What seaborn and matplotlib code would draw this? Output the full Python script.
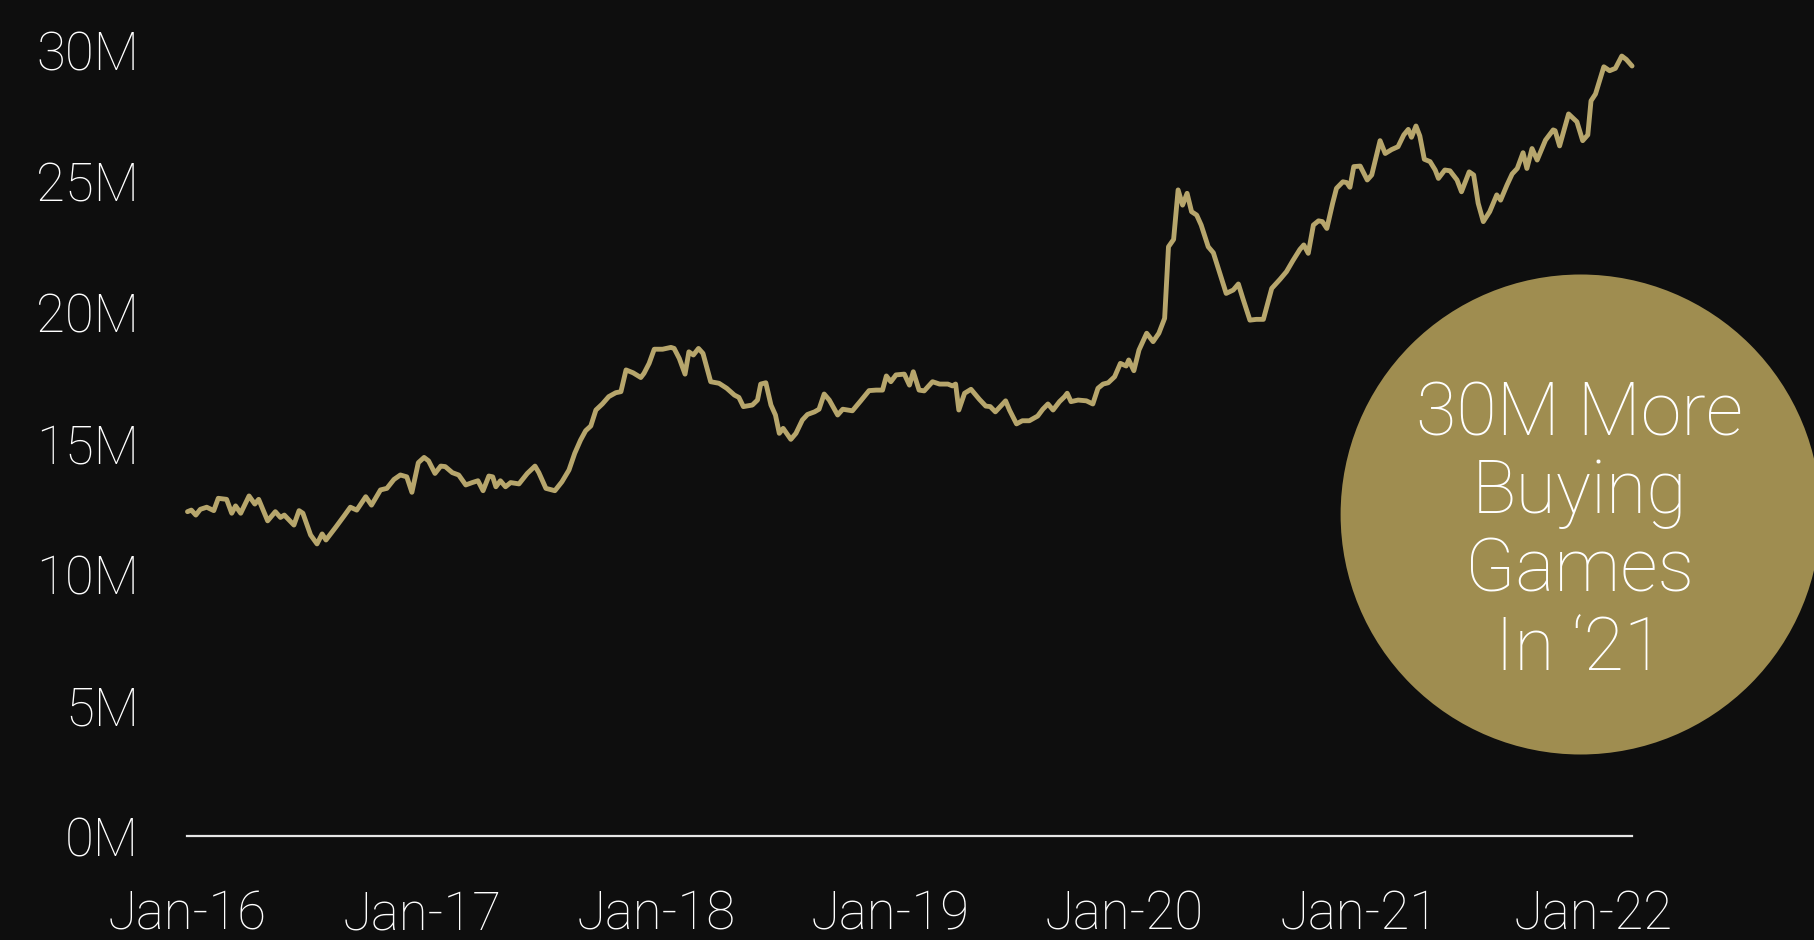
import numpy as np
import pandas as pd
import matplotlib
matplotlib.use("Agg")
import matplotlib.pyplot as plt
import matplotlib.patches as mpatches
import seaborn as sns

# ---- data ----
start_date = "2016-01-01"
days_since_start = [
    0, 6, 13, 20, 30, 41, 48, 61, 69, 75, 83, 96, 105, 111, 125, 137, 145, 151, 166, 174,
    180, 192, 202, 210, 216, 231, 244, 254, 264, 278, 287, 301, 311, 322, 332, 342, 350, 360,
    369, 376, 386, 395, 402, 413, 423, 434, 444, 453, 461, 470, 476, 481, 488, 496, 504, 517,
    530, 542, 548, 559, 573, 584, 595, 604, 613, 621, 629, 637, 647, 657, 668, 676, 684, 695,
    707, 712, 720, 728, 741, 754, 759, 767, 776, 782, 789, 797, 804, 816, 829, 841, 853, 860,
    867, 881, 889, 894, 902, 910, 917, 923, 929, 941, 949, 959, 967, 978, 985, 993, 1001, 1014,
    1022, 1037, 1050, 1063, 1074, 1084, 1090, 1097, 1105, 1118, 1126, 1132, 1141, 1149, 1162,
    1173, 1186, 1193, 1198, 1203, 1212, 1222, 1235, 1245, 1252, 1260, 1276, 1282, 1293, 1302,
    1313, 1326, 1334, 1342, 1350, 1360, 1368, 1372, 1378, 1389, 1402, 1412, 1420, 1428, 1436,
    1446, 1455, 1464, 1468, 1476, 1484, 1496, 1506, 1515, 1524, 1530, 1538, 1545, 1552, 1559,
    1566, 1574, 1581, 1592, 1600, 1610, 1620, 1631, 1639, 1646, 1657, 1667, 1678, 1691, 1704,
    1714, 1724, 1735, 1741, 1748, 1756, 1764, 1770, 1777, 1786, 1792, 1802, 1808, 1813, 1819,
    1829, 1840, 1847, 1860, 1868, 1878, 1888, 1897, 1904, 1909, 1916, 1922, 1929, 1938, 1946,
    1951, 1961, 1969, 1980, 1987, 1999, 2006, 2013, 2021, 2031, 2042, 2048, 2058, 2066, 2074,
    2083, 2089, 2097, 2105, 2118, 2130, 2133, 2140, 2154, 2167, 2176, 2184, 2189, 2196, 2209,
    2218, 2227, 2237, 2244, 2253,
]
buyers_millions = [
    12.38, 12.44, 12.25, 12.47, 12.55, 12.42, 12.89, 12.85, 12.32, 12.60, 12.32, 12.98, 12.67,
    12.85, 12.03, 12.38, 12.16, 12.25, 11.87, 12.42, 12.32, 11.49, 11.15, 11.53, 11.30, 11.78,
    12.21, 12.55, 12.44, 12.95, 12.63, 13.21, 13.27, 13.61, 13.78, 13.71, 13.12, 14.25,
    14.45, 14.32, 13.84, 14.12, 14.10, 13.87, 13.78, 13.40, 13.49, 13.56, 13.18, 13.74, 13.71,
    13.33, 13.56, 13.33, 13.49, 13.44, 13.84, 14.12, 13.87, 13.27, 13.18, 13.52, 13.97, 14.61,
    15.11, 15.47, 15.65, 16.26, 16.49, 16.77, 16.92, 16.96, 17.79, 17.68, 17.50,
    17.66, 18.04, 18.58, 18.58, 18.65, 18.61, 18.23, 17.63, 18.48, 18.36, 18.61, 18.42, 17.34,
    17.28, 17.09, 16.83, 16.74, 16.39, 16.45, 16.64, 17.25, 17.30, 16.45, 16.07, 15.37, 15.56,
    15.14, 15.37, 15.88, 16.09, 16.19, 16.29, 16.87, 16.64, 16.07, 16.29, 16.23, 16.61, 17.00,
    17.02, 17.02, 17.56, 17.34, 17.60, 17.63, 17.21, 17.72, 17.02, 16.99, 17.34, 17.25, 17.25,
    17.18, 17.25, 16.26, 16.90, 17.05, 16.67, 16.41, 16.39, 16.19, 16.61, 16.26, 15.73, 15.85,
    15.85, 16.03, 16.29, 16.49, 16.26, 16.58, 16.77, 16.90, 16.58, 16.64, 16.61, 16.49, 17.09,
    17.25, 17.30,
    17.53, 18.04, 17.94, 18.17, 17.76, 18.55, 19.19, 18.87, 19.19, 19.76, 22.49, 22.77, 24.66,
    24.08, 24.53, 23.83, 23.70, 23.32, 22.49, 22.26, 21.48, 20.71, 20.84, 21.07, 20.52, 19.69,
    19.72, 19.72, 20.90, 21.25, 21.54, 21.96, 22.39, 22.56, 22.24, 23.32, 23.48, 23.45, 23.19,
    24.15, 24.72, 24.97, 24.94, 24.76, 25.55, 25.57, 25.04, 25.23, 26.54, 26.05, 26.20, 26.31,
    26.76, 26.97, 26.67, 27.10, 26.72, 25.83, 25.74, 25.42, 25.10, 25.42, 25.39, 25.04, 24.59,
    25.35, 25.23, 24.15, 23.45, 23.83, 24.47, 24.27, 24.85, 25.27, 25.48, 26.08, 25.48, 26.24,
    25.80, 26.56, 26.95, 26.92, 26.34, 27.56, 27.26, 26.54, 26.76, 28.06, 28.32, 29.36, 29.21,
    29.30, 29.77, 29.64, 29.39,
]
tick_years = [2016, 2017, 2018, 2019, 2020, 2021, 2022]
tick_labels_x = ["Jan-16", "Jan-17", "Jan-18", "Jan-19", "Jan-20", "Jan-21", "Jan-22"]
y_ticks = [0, 5, 10, 15, 20, 25, 30]
callout_lines = ["30M More", "Buying", "Games", "In \u201821"]

# ---- style ----
BG = "#0e0e0e"
LINE = "#b7a66c"
CIRCLE = "#9f8d50"

sns.set_theme(style="dark")
plt.rcParams["font.family"] = ["Roboto", "DejaVu Sans"]
plt.rcParams["font.weight"] = "light"

df = pd.DataFrame({
    "date": pd.Timestamp(start_date) + pd.to_timedelta(days_since_start, unit="D"),
    "buyers": buyers_millions,
})

fig = plt.figure(figsize=(18.15, 9.40), dpi=100, facecolor=BG)
ax = fig.add_axes([0.1033, 0.1106, 0.7959, 0.8362])
ax.set_facecolor(BG)

sns.lineplot(data=df, x="date", y="buyers", ax=ax, color=LINE, linewidth=3.5,
             clip_on=False, zorder=5)

ax.set_xlim(df["date"].iloc[0], df["date"].iloc[-1])
ax.set_ylim(0, 30)
ax.set_xticks([pd.Timestamp(f"{y}-01-01") for y in tick_years])
ax.set_xticklabels(tick_labels_x)
ax.set_yticks(y_ticks)
ax.set_yticklabels([f"{v}M" for v in y_ticks])
ax.set_xlabel("")
ax.set_ylabel("")
ax.grid(False)

for s in ["top", "right", "left"]:
    ax.spines[s].set_visible(False)
ax.spines["bottom"].set_color("#e6e6e6")
ax.spines["bottom"].set_linewidth(1.6)

ax.tick_params(axis="both", length=0, colors="white")
ax.tick_params(axis="y", pad=35, labelsize=38)
ax.tick_params(axis="x", pad=38, labelsize=38)
for lab in ax.get_xticklabels() + ax.get_yticklabels():
    lab.set_fontweight("light")

# callout circle
circ = mpatches.Circle((15.806, 4.255), 2.40, transform=fig.dpi_scale_trans,
                       facecolor=CIRCLE, edgecolor="none", zorder=10)
fig.patches.append(circ)
fig.text(0.8705, 0.434, "\n".join(callout_lines), ha="center", va="center",
         color="white", fontsize=53, fontweight="light", linespacing=1.12, zorder=11)

fig.savefig("out.png", dpi=100, facecolor=BG)
